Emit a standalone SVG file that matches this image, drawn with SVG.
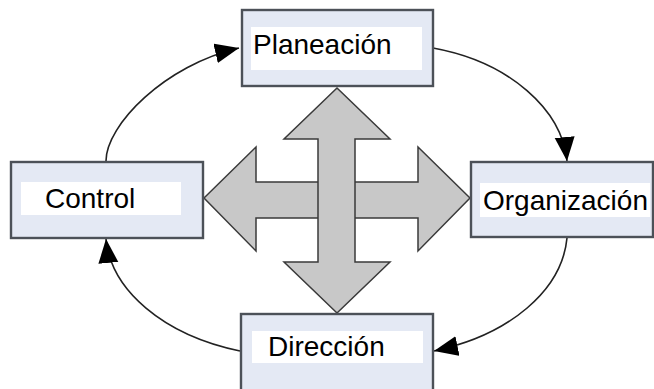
<svg xmlns="http://www.w3.org/2000/svg" width="654" height="389" viewBox="0 0 654 389">
<defs>
<style>
.box{fill:#e4e9f4;stroke:#4c5158;stroke-width:2.4}
.inner{fill:#ffffff}
.lbl{font-family:"Liberation Sans",Arial,sans-serif;font-size:28px;fill:#000}
.cross{fill:#c8c8c8;stroke:#3a3a3a;stroke-width:1.5;stroke-linejoin:miter}
.conn{fill:none;stroke:#222;stroke-width:1.6}
</style>
<marker id="ah" markerUnits="userSpaceOnUse" markerWidth="26" markerHeight="22" refX="24" refY="10" orient="auto">
<path d="M0,0 L24,10 L0,20 Z" fill="#000"/>
</marker>
</defs>
<rect width="654" height="389" fill="#fff"/>
<g id="connectors">
<path class="conn" d="M106,161 C106,125 165,65 239,48" marker-end="url(#ah)"/>
<path class="conn" d="M433,48 C510,62 562,110 567,161" marker-end="url(#ah)"/>
<path class="conn" d="M567,238 C562,290 510,335 434,351" marker-end="url(#ah)"/>
<path class="conn" d="M240,351 C163,335 111,290 106,239" marker-end="url(#ah)"/>
</g>
<g id="cross">
<polygon class="cross" points="204,198 256,147 256,182 418,182 418,147 470,198 418,251 418,218 256,218 256,251"/>
<polygon class="cross" points="337,88 390,139 355,139 355,262 390,262 337,313 284,262 318,262 318,139 284,139"/>
</g>
<g id="planeacion">
<rect class="box" x="242" y="10" width="191" height="76"/>
<rect class="inner" x="251" y="27" width="171" height="43"/>
<text class="lbl" x="253" y="54">Planeación</text>
</g>
<g id="control">
<rect class="box" x="11" y="162" width="192" height="76"/>
<rect class="inner" x="21" y="182" width="160" height="33"/>
<text class="lbl" x="45" y="208">Control</text>
</g>
<g id="organizacion">
<rect class="box" x="471" y="162" width="182" height="75"/>
<rect class="inner" x="480" y="183" width="170" height="34"/>
<text class="lbl" x="483" y="210">Organización</text>
</g>
<g id="direccion">
<rect class="box" x="241" y="314" width="192" height="90"/>
<rect class="inner" x="252" y="331" width="171" height="32"/>
<text class="lbl" x="268" y="356">Dirección</text>
</g>
</svg>
